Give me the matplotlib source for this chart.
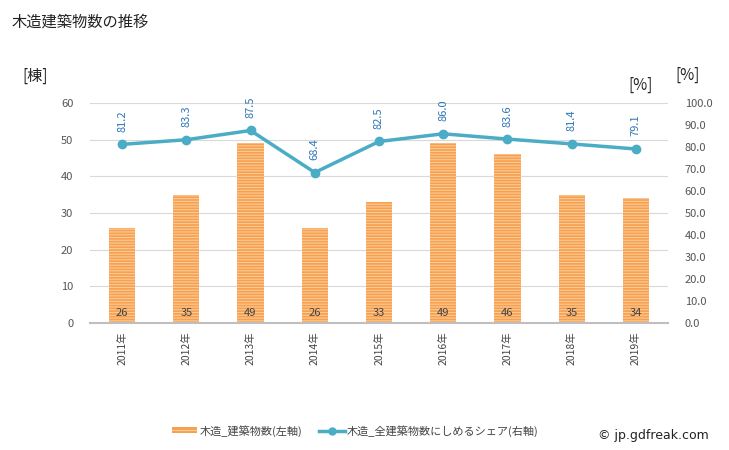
import matplotlib
matplotlib.use("Agg")
import matplotlib.pyplot as plt
import numpy as np

plt.rcParams['font.family'] = ['Noto Sans CJK JP', 'DejaVu Sans']

years = ['2011年', '2012年', '2013年', '2014年', '2015年', '2016年', '2017年', '2018年', '2019年']
counts = [26, 35, 49, 26, 33, 49, 46, 35, 34]
shares = [81.2, 83.3, 87.5, 68.4, 82.5, 86.0, 83.6, 81.4, 79.1]

W, H = 729, 450
fig = plt.figure(figsize=(W/100, H/100), dpi=100)
left, right, top, bottom = 90, 668, 103, 323
ax = fig.add_axes([left/W, 1-bottom/H, (right-left)/W, (bottom-top)/H])
ax2 = ax.twinx()

x = np.arange(len(years))
plt.rcParams['hatch.linewidth'] = 0.8
bars = ax.bar(x, counts, width=0.41, color='#F7A04F', edgecolor='#FCCB98', linewidth=0, hatch='------', zorder=2)
for xi, c in zip(x, counts):
    ax.text(xi, 1.3, str(c), ha='center', va='bottom', fontsize=8, color='#444444', zorder=3)

ax.set_xlim(-0.5, len(years)-0.5)
ax.set_ylim(0, 60)
ax.set_yticks(range(0, 61, 10))
ax.set_yticklabels([str(v) for v in range(0, 61, 10)], fontsize=8, color='#555555')
ax.grid(axis='y', color='#D9D9D9', linewidth=0.8, zorder=0)
ax.set_axisbelow(True)
ax.set_xticks(x)
ax.set_xticklabels(years, rotation=90, fontsize=7.5, color='#444444')
ax.tick_params(axis='both', length=0)
ax.tick_params(axis='x', pad=6)
ax.tick_params(axis='y', pad=12)
for s in ['top', 'right', 'left']:
    ax.spines[s].set_visible(False)
ax.spines['bottom'].set_color('#BFBFBF')
ax.spines['bottom'].set_linewidth(1.5)

ax2.plot(x, shares, color='#4BACC6', linewidth=2.5, marker='o', markersize=6, zorder=4)
for xi, s in zip(x, shares):
    ax2.annotate(f'{s:.1f}', (xi, s), xytext=(0, 9), textcoords='offset points',
                 rotation=90, ha='center', va='bottom', fontsize=8, color='#2E75B6')
ax2.set_ylim(0, 100)
ax2.set_yticks(range(0, 101, 10))
ax2.set_yticklabels([f'{v:.1f}' for v in range(0, 101, 10)], fontsize=8, color='#555555')
ax2.tick_params(axis='y', length=0, pad=12)
for s in ['top', 'right', 'left', 'bottom']:
    ax2.spines[s].set_visible(False)

fig.text(12/W, 1-22/H, '木造建築物数の推移', fontsize=11, color='#222222', va='center')
fig.text(22/W, 1-76/H, '[棟]', fontsize=11, color='#222222', va='center')
fig.text(628/W, 1-85/H, '[%]', fontsize=11, color='#222222', va='center')
fig.text(675/W, 1-75/H, '[%]', fontsize=11, color='#222222', va='center')

# legend
from matplotlib.patches import Rectangle
from matplotlib.lines import Line2D
lax = fig.add_axes([0, 0, 1, 1], facecolor='none')
lax.set_xlim(0, W); lax.set_ylim(H, 0); lax.axis('off')
lax.add_patch(Rectangle((172, 427), 25, 6, facecolor='#F7A04F', edgecolor='#FCCB98', linewidth=0, hatch='---'))
lax.text(200, 431, '木造_建築物数(左軸)', fontsize=8, color='#444444', va='center')
lax.add_line(Line2D([319, 345], [431, 431], color='#4BACC6', linewidth=2.5))
lax.add_line(Line2D([332], [431], color='#4BACC6', marker='o', markersize=5))
lax.text(347, 431, '木造_全建築物数にしめるシェア(右軸)', fontsize=8, color='#444444', va='center')
lax.text(598, 435, '© jp.gdfreak.com', fontsize=9, color='#222222', va='center', family=['DejaVu Sans'])

fig.savefig('out.png', dpi=100)
